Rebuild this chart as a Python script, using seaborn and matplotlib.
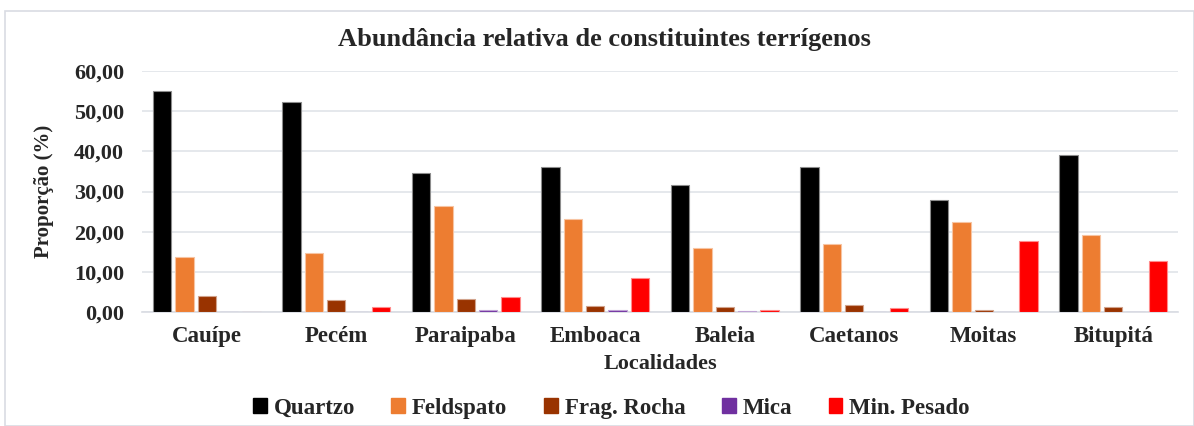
import numpy as np
import pandas as pd
import matplotlib
matplotlib.use("Agg")
import matplotlib.pyplot as plt
from matplotlib.ticker import FuncFormatter
from matplotlib.patches import Rectangle
import seaborn as sns

localidades = ["Cauípe", "Pecém", "Paraipaba", "Emboaca", "Baleia", "Caetanos", "Moitas", "Bitupitá"]
constituintes = ["Quartzo", "Feldspato", "Frag. Rocha", "Mica", "Min. Pesado"]

quartzo = [55.1, 52.3, 34.5, 36.2, 31.6, 36.1, 27.9, 39.1]
feldspato = [13.7, 14.7, 26.5, 23.1, 15.9, 17.0, 22.5, 19.2]
frag_rocha = [4.1, 2.9, 3.3, 1.6, 1.2, 1.8, 0.6, 1.3]
mica = [0.0, 0.0, 0.4, 0.4, 0.2, 0.0, 0.0, 0.0]
min_pesado = [0.0, 1.3, 3.8, 8.4, 0.6, 1.0, 17.6, 12.7]

cores = ["#000000", "#ED7D31", "#993300", "#7030A0", "#FF0000"]

df = pd.DataFrame({
    "Localidades": localidades * 5,
    "Constituinte": np.repeat(constituintes, len(localidades)),
    "Proporção": quartzo + feldspato + frag_rocha + mica + min_pesado,
})

sns.set_theme(style="white")
plt.rcParams["font.family"] = ["Liberation Serif", "DejaVu Serif"]
plt.rcParams["font.weight"] = "bold"

fig = plt.figure(figsize=(11.94, 4.26), dpi=100)
ax = fig.add_axes([142 / 1194, 1 - 312 / 426, 1036 / 1194, 241 / 426])

sns.barplot(data=df, x="Localidades", y="Proporção", hue="Constituinte",
            hue_order=constituintes, palette=cores, saturation=1, width=0.86, gap=0.17,
            linewidth=0.8, ax=ax, zorder=3)

# borda clara em cada barra (tom mais claro da própria cor)
for p in ax.patches:
    fc = np.array(p.get_facecolor()[:3])
    p.set_edgecolor(fc + (1 - fc) * 0.55)

ax.set_ylim(0, 60)
ax.set_yticks(np.arange(0, 61, 10))
ax.yaxis.set_major_formatter(FuncFormatter(lambda v, p: f"{v:.2f}".replace(".", ",")))
ax.grid(axis="y", color="#E3E6EB", linewidth=1.3, zorder=0)
ax.set_axisbelow(True)
for s in ["top", "right", "left"]:
    ax.spines[s].set_visible(False)
ax.spines["bottom"].set_color("#D9DCE3")
ax.spines["bottom"].set_linewidth(1.2)
ax.tick_params(axis="y", length=0, pad=13, labelsize=16)
ax.tick_params(axis="x", length=0, pad=10, labelsize=16.5)
for t in ax.get_xticklabels() + ax.get_yticklabels():
    t.set_fontweight("bold")

ax.set_xlabel("Localidades", fontsize=16, fontweight="bold", labelpad=5)
ax.set_ylabel("Proporção (%)", fontsize=15, fontweight="bold")
ax.yaxis.set_label_coords(-0.085, 0.5)

fig.suptitle("Abundância relativa de constituintes terrígenos", x=0.506, y=0.935,
             fontsize=19, fontweight="bold")

ax.legend_.remove()
handles = [Rectangle((0, 0), 1, 1, color=c) for c in cores]
fig.legend(handles, constituintes, loc="center", bbox_to_anchor=(0.512, 0.042),
           ncol=5, frameon=False, handlelength=0.6, handleheight=0.6,
           handletextpad=0.3, columnspacing=1.6,
           prop={"size": 16.5, "weight": "bold"})

fig.patches.append(Rectangle((0.004, 0.0), 0.996, 0.975, transform=fig.transFigure,
                             fill=False, edgecolor="#D9DCE3", linewidth=1.2))

fig.savefig("out.png", dpi=100, facecolor="white")
